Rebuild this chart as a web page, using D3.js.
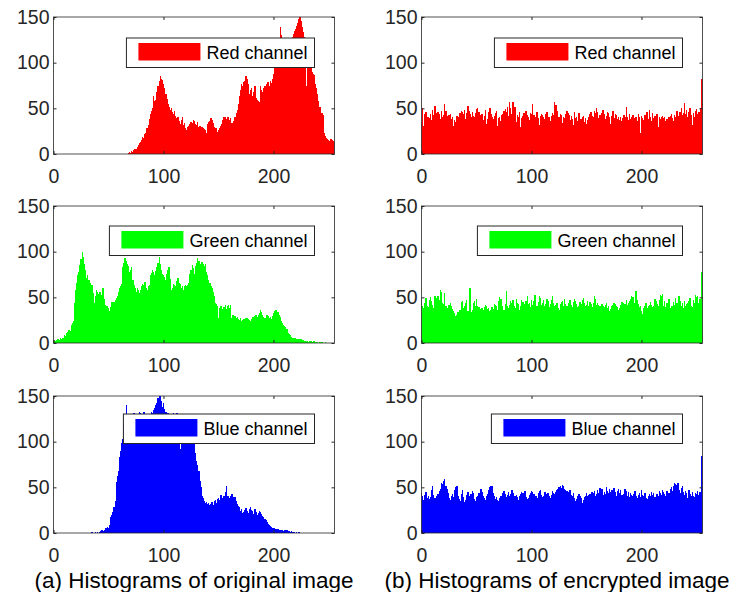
<!DOCTYPE html>
<html>
<head>
<meta charset="utf-8">
<script src="https://cdn.jsdelivr.net/npm/d3@7"></script>
<style>
  body { margin: 0; background: #fff; }
  svg { display: block; font-family: "Liberation Sans", Arial, Helvetica, sans-serif; }
</style>
</head>
<body>
<svg id="chart" width="737" height="592"></svg>
<script>
// histogram counts per grey level 0..255
const redOriginal = [
  0,0,0,0,0,0,0,0,0,0,0,0,0,0,0,0,
  0,0,0,0,0,0,0,0,0,0,0,0,0,0,0,0,
  0,0,0,0,0,0,0,0,0,0,0,0,0,0,0,0,
  0,0,0,0,0,0,0,0,0,0,0,0,0,0,0,0,
  0,0,0,0,1,2,1,3,2,4,6,5,8,10,12,13,
  15,19,18,22,23,28,32,38,44,47,50,63,58,59,68,75,
  80,85,82,81,77,72,66,60,55,52,48,50,46,44,47,42,
  39,41,36,33,37,41,32,34,29,26,30,31,33,35,34,37,
  36,33,32,35,30,31,29,30,28,27,26,23,33,35,36,39,
  37,34,30,28,29,24,26,28,31,33,37,40,41,38,41,40,
  37,39,34,32,36,41,45,48,55,63,70,77,74,79,80,85,
  82,77,66,70,72,63,68,75,61,59,58,57,75,70,68,72,
  74,71,77,79,75,80,78,82,88,95,103,114,120,126,139,130,
  125,118,122,117,115,120,124,119,126,128,131,135,137,140,143,148,
  150,146,139,134,128,110,74,98,95,102,95,90,88,86,77,72,
  66,58,52,43,45,43,23,20,17,16,15,14,16,15,14,13
];
const greenOriginal = [
  2,3,2,3,4,3,5,4,5,6,9,8,11,12,14,13,
  20,22,24,44,58,66,74,78,85,92,100,94,87,80,71,74,
  69,66,62,64,55,44,52,58,56,54,56,53,50,60,48,42,
  40,41,38,35,39,45,44,45,47,49,52,56,60,62,65,83,
  88,93,90,87,84,78,80,83,69,64,60,56,60,58,55,58,
  62,65,63,67,60,58,62,64,74,77,80,78,74,79,83,88,
  94,87,80,76,74,72,69,76,80,83,70,58,60,65,64,62,
  68,71,66,65,60,62,58,62,63,62,64,66,76,80,85,82,
  76,84,88,93,90,83,86,89,87,84,87,78,74,69,66,62,
  60,56,52,44,43,40,27,38,40,37,35,39,42,37,40,42,
  38,42,27,31,29,30,27,28,26,25,27,24,25,26,25,27,
  27,26,25,24,26,29,28,30,31,29,31,33,36,34,31,28,
  27,25,31,30,27,28,26,30,33,35,36,33,34,31,28,24,
  22,20,19,18,15,11,10,9,7,5,6,5,5,4,4,4,
  3,4,3,3,2,2,2,2,1,2,2,1,2,2,1,1,
  1,0,1,0,1,0,0,1,0,0,0,0,0,0,0,0
];
const blueOriginal = [
  0,0,0,0,0,0,0,0,0,0,0,0,0,0,0,0,
  0,0,0,0,0,0,0,0,0,0,0,0,0,0,0,0,
  0,0,0,1,0,0,1,0,1,0,1,2,3,2,3,6,
  5,7,6,9,17,20,23,29,35,56,62,68,83,90,98,103,
  118,126,140,127,122,129,125,129,124,131,128,126,130,127,133,131,
  129,126,132,128,124,127,130,125,128,133,131,135,137,140,142,148,
  150,150,144,138,142,136,133,129,131,128,127,130,128,131,129,127,
  131,126,125,92,128,130,127,124,126,123,121,124,120,118,112,101,
  97,88,79,74,68,57,50,41,38,35,33,34,32,33,31,32,
  34,31,35,36,33,37,38,36,42,33,38,41,45,52,40,41,
  38,41,43,39,36,39,35,32,30,28,24,26,22,23,25,27,
  24,22,26,28,25,24,21,26,23,20,22,24,23,21,19,17,
  15,14,12,10,9,8,7,6,5,5,4,4,4,3,3,3,
  3,2,3,3,3,2,2,1,2,1,1,1,0,1,0,1,
  0,0,0,0,0,0,0,0,0,0,0,0,0,0,0,0,
  0,0,0,0,0,0,0,0,0,0,0,0,0,0,0,0
];
const redEncrypted = [
  35,50,31,44,46,40,41,39,44,37,48,43,53,41,45,46,
  44,38,47,40,43,55,47,42,39,43,44,38,40,31,37,35,
  42,33,41,45,47,46,44,48,38,45,53,47,44,40,46,42,
  41,45,49,50,46,43,40,44,37,42,48,33,38,46,50,44,
  40,38,42,45,47,31,39,41,36,43,44,47,49,46,52,42,
  57,50,44,57,49,52,35,43,41,46,30,39,42,45,38,47,
  43,40,37,45,44,55,43,38,41,46,39,32,42,44,43,40,
  38,44,46,41,40,36,42,45,43,57,54,47,38,41,44,43,
  34,40,39,44,47,45,43,37,42,38,32,46,39,41,36,45,
  34,38,40,42,35,39,33,37,41,44,46,42,40,47,45,50,
  46,39,43,41,45,48,44,38,42,46,45,40,33,42,47,39,
  44,43,38,41,37,40,36,39,43,41,52,40,37,44,38,41,
  43,39,35,41,36,44,40,23,42,39,37,43,41,46,38,48,
  40,36,45,39,42,37,44,30,40,38,41,42,39,40,36,38,
  37,40,42,44,39,36,43,41,47,42,38,46,50,43,45,56,
  44,48,41,46,50,43,32,45,41,47,49,44,46,45,50,82
];
const greenEncrypted = [
  48,40,38,44,49,41,39,47,50,46,42,38,51,45,49,52,
  47,58,56,44,43,55,40,38,36,42,44,41,37,35,33,30,
  31,34,29,36,45,46,38,41,44,47,35,30,60,34,36,44,
  46,40,48,41,39,37,35,38,36,39,42,40,37,38,35,36,
  39,37,43,42,40,36,46,50,48,40,35,36,43,57,41,38,
  42,46,44,47,40,38,48,44,43,36,41,47,45,38,43,46,
  52,43,44,39,47,42,46,53,38,40,45,52,49,42,44,47,
  41,43,48,46,39,43,47,51,44,40,42,44,38,36,43,45,
  46,41,48,43,40,38,44,47,42,39,45,48,46,43,39,41,
  45,43,47,49,44,41,42,46,40,45,43,39,44,51,48,42,
  44,42,41,37,43,40,39,42,44,38,41,35,37,40,42,44,
  43,41,39,36,38,42,45,44,40,43,47,42,44,46,48,52,
  50,41,44,57,47,43,39,41,35,32,38,40,44,38,40,42,
  45,42,39,41,48,46,43,40,47,53,52,54,41,46,39,44,
  43,48,38,40,41,45,42,49,44,37,52,46,40,44,38,46,
  40,43,44,46,49,41,39,47,44,53,50,52,44,48,42,78
];
const blueEncrypted = [
  44,41,36,42,45,38,40,37,39,47,51,42,38,36,40,43,
  46,48,55,54,57,59,52,48,44,38,36,41,43,39,47,50,
  52,40,37,35,43,47,39,34,36,42,45,40,38,43,46,44,
  37,35,39,41,44,42,48,45,40,38,36,41,43,47,50,52,
  51,44,40,37,39,36,35,38,40,41,44,46,43,39,42,45,
  40,43,47,44,38,41,42,39,36,40,43,45,44,41,46,39,
  37,38,42,44,46,45,43,40,41,38,44,46,47,42,39,40,
  45,41,43,44,40,38,42,46,44,43,45,47,48,50,51,49,
  53,52,48,47,46,44,45,47,42,40,44,38,35,37,41,43,
  40,38,33,36,39,41,44,40,42,43,39,45,44,46,41,43,
  47,44,49,46,48,42,45,43,50,46,44,48,45,47,43,49,
  45,41,46,48,44,47,42,40,43,48,46,41,45,39,44,42,
  40,43,46,41,38,42,44,39,47,42,40,44,38,37,41,43,
  40,45,42,44,39,38,43,41,46,44,42,47,45,43,40,46,
  42,44,48,50,46,52,55,54,53,55,47,44,49,52,45,42,
  46,44,38,47,43,40,45,41,39,44,43,46,42,45,36,84
];

const xTicks = [0, 100, 200];
const yTicks = [0, 50, 100, 150];
const captions = ["(a) Histograms of original image", "(b) Histograms of encrypted image"];

const panels = [
  { data: redOriginal, color: "#ff0000", label: "Red channel", row: 0, col: 0 },
  { data: greenOriginal, color: "#00ff00", label: "Green channel", row: 1, col: 0 },
  { data: blueOriginal, color: "#0000ff", label: "Blue channel", row: 2, col: 0 },
  { data: redEncrypted, color: "#ff0000", label: "Red channel", row: 0, col: 1 },
  { data: greenEncrypted, color: "#00ff00", label: "Green channel", row: 1, col: 1 },
  { data: blueEncrypted, color: "#0000ff", label: "Blue channel", row: 2, col: 1 }
];

const svg = d3.select("#chart");
const axisColor = "#262626";
const colLeft = [53.5, 421.5];
const rowTop = [17, 206, 396];
const legendTop = [21, 20, 18];
const w = 281, h = 137;

panels.forEach((p, k) => {
  const left = colLeft[p.col], top = rowTop[p.row];
  const g = svg.append("g").attr("transform", `translate(${left},${top})`);

  const x = d3.scaleLinear().domain([0, 255.5]).range([0, w]);
  const y = d3.scaleLinear().domain([0, 150]).range([h, 0]);

  g.append("clipPath").attr("id", "clip" + k)
    .append("rect").attr("width", w).attr("height", h);

  // bars
  g.append("g").attr("clip-path", `url(#clip${k})`)
    .attr("shape-rendering", "crispEdges")
    .selectAll("rect")
    .data(p.data)
    .join("rect")
    .attr("x", (d, i) => x(i - 0.5))
    .attr("width", (d, i) => x(i + 0.5) - x(i - 0.5) + 0.3)
    .attr("y", d => y(d))
    .attr("height", d => h - y(d))
    .attr("fill", p.color);

  // axes, ticks inward on all four sides
  const styleAxis = sel => {
    sel.select(".domain").remove();
    sel.selectAll("line").attr("stroke", axisColor);
    sel.selectAll("text").attr("fill", axisColor).style("font-size", "19.5px");
  };
  g.append("g").attr("transform", `translate(0,${h})`)
    .call(d3.axisBottom(x).tickValues(xTicks).tickSize(-3).tickPadding(15))
    .call(styleAxis);
  g.append("g")
    .call(d3.axisLeft(y).tickValues(yTicks).tickSize(-3).tickPadding(4))
    .call(styleAxis);
  g.append("g")
    .call(d3.axisTop(x).tickValues(xTicks).tickSize(-3).tickFormat(""))
    .call(styleAxis);
  g.append("g").attr("transform", `translate(${w},0)`)
    .call(d3.axisRight(y).tickValues(yTicks).tickSize(-3).tickFormat(""))
    .call(styleAxis);
  g.append("rect")
    .attr("width", w).attr("height", h)
    .attr("fill", "none").attr("stroke", axisColor).attr("stroke-width", 0.8);

  // legend
  const lg = g.append("g");
  const box = lg.append("rect").attr("fill", "#fff").attr("stroke", axisColor).attr("stroke-width", 1);
  const sw = lg.append("rect").attr("fill", p.color);
  const txt = lg.append("text").text(p.label)
    .style("font-size", "18px").attr("fill", "#000");
  const tw = txt.node().getComputedTextLength();
  const bw = 12 + 62 + 6 + tw + 7, bh = 29.5;
  const bx = w - 20 - bw, by = legendTop[p.row];
  box.attr("x", bx).attr("y", by).attr("width", bw).attr("height", bh);
  sw.attr("x", bx + 12).attr("y", by + 5).attr("width", 62).attr("height", 17.5);
  txt.attr("x", bx + 12 + 62 + 6).attr("y", by + bh / 2).attr("dy", "0.35em");
});

// captions
svg.selectAll(".caption")
  .data(captions)
  .join("text")
  .attr("class", "caption")
  .attr("x", (d, i) => [194, 557][i])
  .attr("y", 588)
  .attr("text-anchor", "middle")
  .style("font-size", "22.5px")
  .attr("fill", "#000")
  .text(d => d);
</script>
</body>
</html>
